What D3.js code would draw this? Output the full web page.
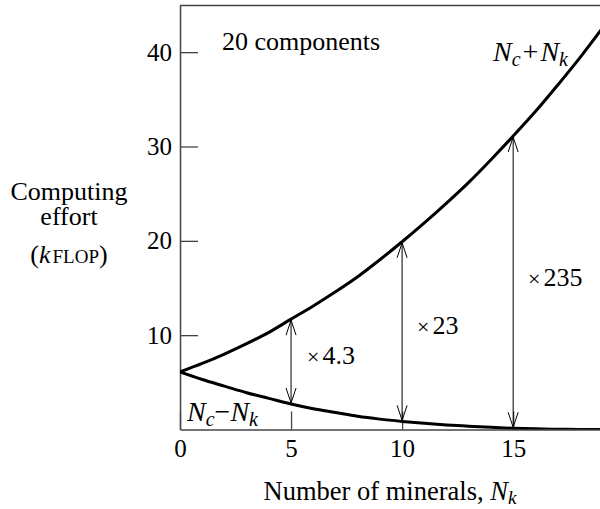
<!DOCTYPE html>
<html>
<head>
<meta charset="utf-8">
<script src="https://cdn.jsdelivr.net/npm/d3@7/dist/d3.min.js"></script>
<style>
  html, body { margin: 0; padding: 0; background: #fff; }
  svg { display: block; }
  text { font-family: "Liberation Serif", "Times New Roman", serif; fill: #000; }
</style>
</head>
<body>
<svg id="chart" width="600" height="509"></svg>
<script>
// ---- data ----
const minerals = [0,1,2,3,4,5,6,7,8,9,10,11,12,13,14,15,16,17,18,19];
const sumEffort = [6.1,7.0,8.0,9.1,10.3,11.7,13.1,14.6,16.2,18.0,19.9,21.9,24.0,26.2,28.6,31.1,33.7,36.5,39.4,42.5];
const diffEffort = [6.1,5.3,4.6,3.9,3.3,2.7,2.2,1.8,1.4,1.1,0.86,0.65,0.48,0.35,0.23,0.13,0.07,0.03,0.01,0.0];
const arrowAt = [5, 10, 15];
const ratioLabels = ["4.3", "23", "235"];
const xTicks = [0, 5, 10, 15];
const yTicks = [10, 20, 30, 40];

// ---- layout ----
const svg = d3.select("#chart");
const pLeft = 180, pRight = 602, pBottom = 429.5, pTop = 5;
const x = d3.scaleLinear().domain([0, 19]).range([pLeft, pRight]);
const y = d3.scaleLinear().domain([0, 45]).range([pBottom, pTop]);

const defs = svg.append("defs");
defs.append("clipPath").attr("id", "clip")
  .append("rect").attr("x", pLeft).attr("y", pTop).attr("width", pRight - pLeft).attr("height", pBottom - pTop);

const marker = defs.append("marker")
  .attr("id", "vhead").attr("viewBox", "-16 -6 17 12")
  .attr("refX", 0).attr("refY", 0)
  .attr("markerWidth", 17).attr("markerHeight", 12)
  .attr("markerUnits", "userSpaceOnUse")
  .attr("orient", "auto-start-reverse");
marker.append("path").attr("d", "M-15,-5 L0,0 L-15,5")
  .attr("fill", "none").attr("stroke", "#000").attr("stroke-width", 1);

const tickFont = "25px";

// axes
const xAxis = d3.axisBottom(x).tickValues(xTicks).tickSizeInner(-18).tickSizeOuter(0).tickPadding(10)
  .tickFormat(d3.format("d"));
const gx = svg.append("g").attr("transform", `translate(0,${pBottom})`).call(xAxis);
gx.select(".domain").attr("stroke", "#444").attr("stroke-width", 1.5);
gx.selectAll(".tick line").attr("stroke", "#444").attr("stroke-width", 1.3);
gx.selectAll(".tick text").style("font-size", tickFont).style("font-family", "'Liberation Serif', serif").attr("fill", "#000");

const yAxis = d3.axisLeft(y).tickValues(yTicks).tickSizeInner(-18).tickSizeOuter(0).tickPadding(8)
  .tickFormat(d3.format("d"));
const gy = svg.append("g").attr("transform", `translate(${pLeft},0)`).call(yAxis);
gy.select(".domain").attr("stroke", "#444").attr("stroke-width", 1.5);
gy.selectAll(".tick line").attr("stroke", "#444").attr("stroke-width", 1.3);
gy.selectAll(".tick text").style("font-size", tickFont).style("font-family", "'Liberation Serif', serif").attr("fill", "#000");

// top frame
svg.append("line").attr("x1", pLeft).attr("x2", 600).attr("y1", pTop + 0.5).attr("y2", pTop + 0.5)
  .attr("stroke", "#444").attr("stroke-width", 1.5);

// curves
const line = d3.line().x((d, i) => x(minerals[i])).y(d => y(d)).curve(d3.curveMonotoneX);
const plot = svg.append("g").attr("clip-path", "url(#clip)");
plot.append("path").datum(sumEffort).attr("d", line)
  .attr("fill", "none").attr("stroke", "#000").attr("stroke-width", 3);
plot.append("path").datum(diffEffort).attr("d", line)
  .attr("fill", "none").attr("stroke", "#000").attr("stroke-width", 3);

// double arrows
arrowAt.forEach(k => {
  const i = minerals.indexOf(k);
  svg.append("line")
    .attr("x1", x(k)).attr("x2", x(k))
    .attr("y1", y(diffEffort[i]) - 1).attr("y2", y(sumEffort[i]) + 1)
    .attr("stroke", "#000").attr("stroke-width", 1)
    .attr("marker-start", "url(#vhead)").attr("marker-end", "url(#vhead)");
});

// ratio labels
const ratioPos = [[307, 364], [417, 334], [528, 286]];
ratioLabels.forEach((t, j) => {
  const tx = svg.append("text").attr("x", ratioPos[j][0]).attr("y", ratioPos[j][1]).style("font-size", "26px");
  tx.append("tspan").text("×").style("font-size", "22px");
  tx.append("tspan").attr("dx", 3).text(t);
});

// annotations
svg.append("text").attr("x", 222).attr("y", 50).style("font-size", "26px").text("20 components");

function nLabel(xp, yp, op, gap) {
  const t = svg.append("text").attr("x", xp).attr("y", yp).style("font-size", "28px");
  t.append("tspan").style("font-style", "italic").text("N");
  t.append("tspan").style("font-style", "italic").style("font-size", "20px").attr("dy", 5).text("c");
  t.append("tspan").attr("dy", -5).attr("dx", gap).text(op);
  t.append("tspan").style("font-style", "italic").attr("dx", gap).text("N");
  t.append("tspan").style("font-style", "italic").style("font-size", "20px").attr("dy", 5).text("k");
}
nLabel(493, 61, "+", 2);
nLabel(187, 421, "−", 0);

// axis titles
const yl = svg.append("text").attr("text-anchor", "middle").style("font-size", "26px");
yl.append("tspan").attr("x", 69).attr("y", 200).text("Computing");
yl.append("tspan").attr("x", 69).attr("y", 225).text("effort");
const yl2 = svg.append("text").attr("x", 69).attr("y", 263).attr("text-anchor", "middle").style("font-size", "26px");
yl2.append("tspan").text("(");
yl2.append("tspan").style("font-style", "italic").text("k");
yl2.append("tspan").attr("dx", 2).style("font-size", "19px").text("FLOP");
yl2.append("tspan").text(")");

const xl = svg.append("text").attr("x", 390).attr("y", 500).attr("text-anchor", "middle").style("font-size", "26.5px");
xl.append("tspan").text("Number of minerals, ");
xl.append("tspan").style("font-style", "italic").text("N");
xl.append("tspan").style("font-style", "italic").style("font-size", "19px").attr("dy", 4).text("k");
</script>
</body>
</html>
